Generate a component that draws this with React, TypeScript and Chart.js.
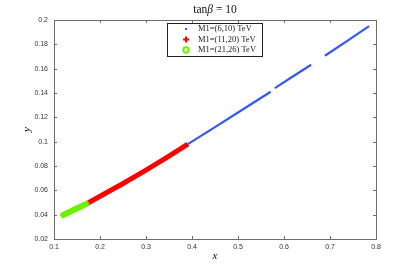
import React, { useEffect, useRef } from "react";
import { Chart, registerables } from "chart.js";

Chart.register(...registerables);

// Series values (null = gap in the curve)
const blueX = [0.391, 0.45, 0.5, 0.571, 0.575, 0.58, 0.62, 0.659, 0.674, 0.689, 0.74, 0.785];
const blueY = [0.098, 0.112, 0.124, 0.141, null, 0.144, 0.1538, 0.1632, null, 0.1706, 0.1834, 0.195];
const redX = [0.17, 0.25, 0.3, 0.35, 0.391];
const redY = [0.0488, 0.0656, 0.0766, 0.0881, 0.098];
const greenX = [0.12, 0.145, 0.17];
const greenY = [0.0397, 0.0442, 0.0488];

const seriesLabels = ["M1=(6,10) TeV", "M1=(11,20) TeV", "M1=(21,26) TeV"];
const xTicks = [0.1, 0.2, 0.3, 0.4, 0.5, 0.6, 0.7, 0.8];
const yTicks = [0.02, 0.04, 0.06, 0.08, 0.1, 0.12, 0.14, 0.16, 0.18, 0.2];

const BLUE = "#3557f2";
const RED = "#ff0000";
const GREEN = "#6cf000";

const toPts = (xs: number[], ys: (number | null)[]) => xs.map((x, i) => ({ x, y: ys[i] }));

const framePlugin = {
  id: "frame",
  afterDraw(chart: any) {
    const { ctx, chartArea: a, scales } = chart;
    const xs = scales.x;
    const ys = scales.y;
    ctx.save();
    // box
    ctx.strokeStyle = "#6e6e6e";
    ctx.lineWidth = 1;
    ctx.strokeRect(Math.round(a.left) + 0.5, Math.round(a.top) + 0.5, Math.round(a.right - a.left), Math.round(a.bottom - a.top));
    // inward ticks
    const tl = 3;
    ctx.beginPath();
    xTicks.forEach((v) => {
      const px = Math.round(xs.getPixelForValue(v)) + 0.5;
      ctx.moveTo(px, a.bottom);
      ctx.lineTo(px, a.bottom - tl);
      ctx.moveTo(px, a.top);
      ctx.lineTo(px, a.top + tl);
    });
    yTicks.forEach((v) => {
      const py = Math.round(ys.getPixelForValue(v)) + 0.5;
      ctx.moveTo(a.left, py);
      ctx.lineTo(a.left + tl, py);
      ctx.moveTo(a.right, py);
      ctx.lineTo(a.right - tl, py);
    });
    ctx.stroke();

    // title: tanβ = 10
    ctx.fillStyle = "#111";
    ctx.textBaseline = "alphabetic";
    const cx = (a.left + a.right) / 2;
    const f1 = "11.5px 'Liberation Serif', serif";
    const f2 = "italic 11.5px 'Liberation Serif', serif";
    const parts: [string, string][] = [["tan", f1], ["β", f2], [" = 10", f1]];
    let w = 0;
    parts.forEach(([t, f]) => { ctx.font = f; w += ctx.measureText(t).width; });
    let x0 = cx - w / 2;
    ctx.textAlign = "left";
    parts.forEach(([t, f]) => { ctx.font = f; ctx.fillText(t, x0, 13); x0 += ctx.measureText(t).width; });

    // axis labels
    ctx.font = "italic 11px 'Liberation Serif', serif";
    ctx.textAlign = "center";
    ctx.fillText("x", cx, 259);
    ctx.save();
    ctx.translate(30, (a.top + a.bottom) / 2);
    ctx.rotate(-Math.PI / 2);
    ctx.fillText("y", 0, 0);
    ctx.restore();

    // legend
    const lx = 167, ly = 23, lw = 95, lh = 33;
    ctx.fillStyle = "#fff";
    ctx.fillRect(lx, ly, lw, lh);
    ctx.strokeStyle = "#222";
    ctx.lineWidth = 1;
    ctx.strokeRect(lx + 0.5, ly + 0.5, lw, lh);
    const rows = [29, 39.5, 50];
    const mx = 186;
    // blue dot
    ctx.fillStyle = BLUE;
    ctx.fillRect(mx - 1, rows[0] - 1, 2, 2);
    // red plus
    ctx.strokeStyle = RED;
    ctx.lineWidth = 2;
    ctx.beginPath();
    ctx.moveTo(mx - 3, rows[1]); ctx.lineTo(mx + 3, rows[1]);
    ctx.moveTo(mx, rows[1] - 3); ctx.lineTo(mx, rows[1] + 3);
    ctx.stroke();
    // green ring
    ctx.strokeStyle = GREEN;
    ctx.lineWidth = 2;
    ctx.beginPath();
    ctx.arc(mx, rows[2], 2.7, 0, Math.PI * 2);
    ctx.stroke();
    ctx.fillStyle = "#222";
    ctx.font = "8.5px 'Liberation Serif', serif";
    ctx.textAlign = "left";
    ctx.textBaseline = "middle";
    seriesLabels.forEach((t, i) => ctx.fillText(t, 198, rows[i]));
    ctx.restore();
  },
};

export default function App() {
  const ref = useRef<HTMLCanvasElement>(null);
  useEffect(() => {
    if (!ref.current) return;
    const chart = new Chart(ref.current, {
      type: "scatter",
      data: {
        datasets: [
          {
            label: seriesLabels[2],
            data: toPts(greenX, greenY),
            showLine: true,
            borderColor: GREEN,
            borderWidth: 6,
            borderCapStyle: "round",
            pointRadius: 0,
            order: 0,
          },
          {
            label: seriesLabels[1],
            data: toPts(redX, redY),
            showLine: true,
            borderColor: RED,
            borderWidth: 5,
            pointRadius: 0,
            order: 1,
          },
          {
            label: seriesLabels[0],
            data: toPts(blueX, blueY),
            showLine: true,
            spanGaps: false,
            borderColor: BLUE,
            borderWidth: 2.2,
            pointRadius: 0,
            order: 2,
          },
        ] as any,
      },
      options: {
        animation: false,
        responsive: false,
        layout: { padding: { top: 20, right: 39, left: 0, bottom: 0 } },
        plugins: { legend: { display: false }, tooltip: { enabled: false }, title: { display: false } },
        scales: {
          x: {
            type: "linear",
            min: 0.1,
            max: 0.8,
            afterFit: (s: any) => { s.height = 31; },
            afterBuildTicks: (s: any) => { s.ticks = xTicks.map((v) => ({ value: v })); },
            grid: { display: false, drawTicks: false },
            border: { display: false },
            ticks: {
              padding: 4,
              color: "#333",
              font: { size: 7, family: "'Liberation Sans', Arial, sans-serif" },
              callback: (v: any) => String(Number(v)),
              maxRotation: 0,
              autoSkip: false,
            },
          },
          y: {
            type: "linear",
            min: 0.02,
            max: 0.2,
            afterFit: (s: any) => { s.width = 54; },
            afterBuildTicks: (s: any) => { s.ticks = yTicks.map((v) => ({ value: v })); },
            grid: { display: false, drawTicks: false },
            border: { display: false },
            ticks: {
              padding: 6,
              color: "#333",
              font: { size: 7, family: "'Liberation Sans', Arial, sans-serif" },
              callback: (v: any) => String(Number(v)),
              autoSkip: false,
            },
          },
        },
      },
      plugins: [framePlugin],
    });
    return () => chart.destroy();
  }, []);
  return (
    <div style={{ position: "absolute", left: 0, top: 0, width: 415, height: 270, background: "#fff" }}>
      <canvas ref={ref} width={415} height={270} style={{ display: "block" }} />
    </div>
  );
}
